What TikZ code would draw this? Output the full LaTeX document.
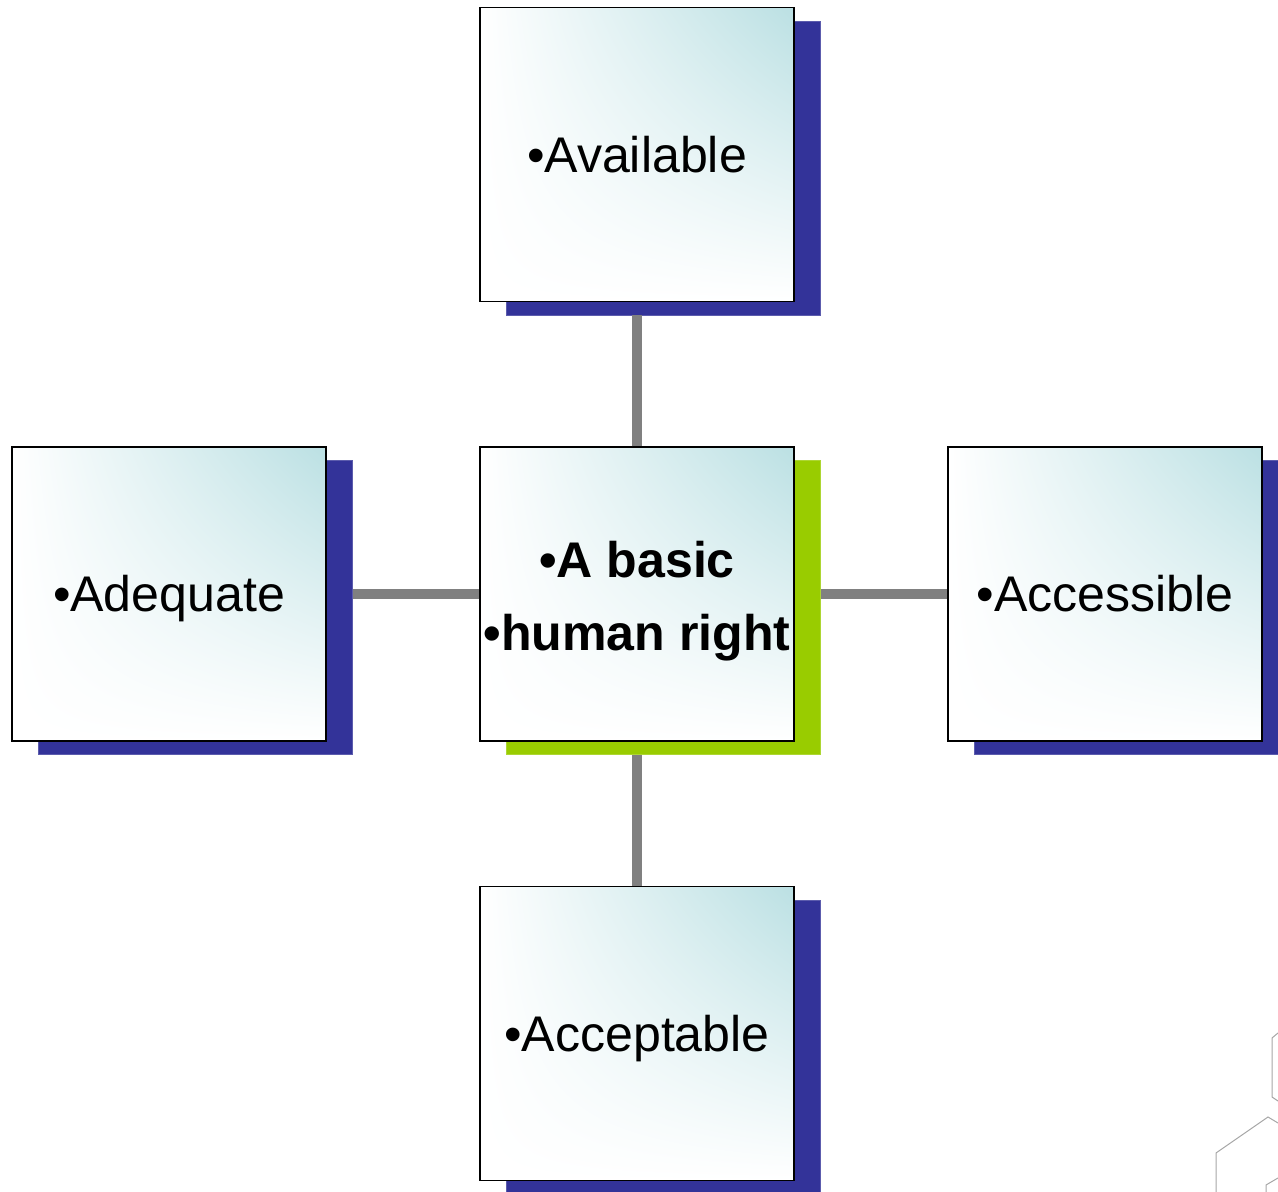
\documentclass[tikz,border=0pt]{standalone}
\usepackage{fontspec}
\usetikzlibrary{shadings}
\setmainfont{Liberation Sans}
\definecolor{boxteal}{RGB}{187,224,227}
\definecolor{shadowblue}{RGB}{51,51,153}
\definecolor{shadowgreen}{RGB}{153,204,0}
\begin{document}
\begin{tikzpicture}[
  box/.style={draw,line width=0.8pt,minimum width=62.8mm,minimum height=58.8mm,inner sep=0pt,
    upper left=white,upper right=boxteal,lower left=white,lower right=white,
    font=\fontsize{28.5pt}{42pt}\selectfont,align=center,text height=7.2mm,text depth=0mm},
  shadowbox/.style={fill=#1,draw=#1!80!white,line width=0.4pt,minimum width=62.8mm,minimum height=58.8mm,inner sep=0pt},
  link/.style={line width=2mm,color=black!50},
  hexline/.style={line width=0.2mm,color=black!35}]
\useasboundingbox (-127.4mm,-119.6mm) rectangle (128.2mm,118.8mm);
\clip (-127.4mm,-119.6mm) rectangle (128.2mm,118.8mm);
\draw[hexline] (128.2mm,-87.8mm) -- (127mm,-88.8mm) -- (127mm,-100.6mm) -- (128.2mm,-101.4mm);
\draw[hexline] (128.2mm,-105.8mm) -- (126.2mm,-104.6mm) -- (115.8mm,-111.8mm) -- (115.8mm,-119.6mm);
\draw[hexline] (128.2mm,-116.8mm) -- (125.8mm,-118.2mm) -- (125.8mm,-119.6mm);
\node[shadowbox=shadowblue] (sh_top) at (5.3mm,85.2mm) {};
\node[box] (b_top) at (0mm,87.9mm) {•Available};
\node[shadowbox=shadowblue] (sh_left) at (-88.3mm,-2.7mm) {};
\node[box] (b_left) at (-93.6mm,0mm) {•Adequate};
\node[shadowbox=shadowblue] (sh_right) at (98.9mm,-2.7mm) {};
\node[box] (b_right) at (93.6mm,0mm) {•Accessible};
\node[shadowbox=shadowblue] (sh_bottom) at (5.3mm,-90.6mm) {};
\node[box] (b_bottom) at (0mm,-87.9mm) {•Acceptable};
\node[shadowbox=shadowgreen] (sh_center) at (5.3mm,-2.7mm) {};
\node[box,font=\fontsize{28.5pt}{42pt}\selectfont\bfseries,text height=22.8mm] (b_center) at (0mm,0mm) {•A basic\\•human right};
\draw[link] (b_center.north) -- (b_center.north |- sh_top.south);
\draw[link] (b_center.west) -- (b_center.west -| sh_left.east);
\draw[link] (sh_center.east |- b_center.east) -- (b_right.west);
\draw[link] (b_center.south |- sh_center.south) -- (b_bottom.north);
\end{tikzpicture}
\end{document}
